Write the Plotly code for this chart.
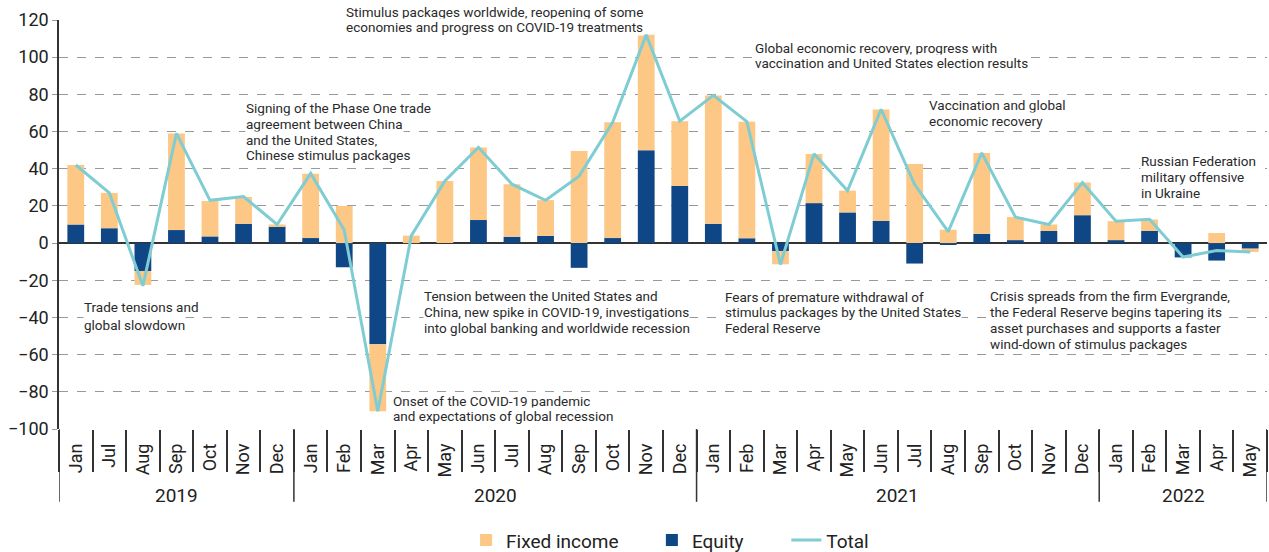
import plotly.graph_objects as go

years = ["2019"] * 7 + ["2020"] * 12 + ["2021"] * 12 + ["2022"] * 5
months = ["Jan", "Jul", "Aug", "Sep", "Oct", "Nov", "Dec",
          "Jan", "Feb", "Mar", "Apr", "May", "Jun", "Jul", "Aug", "Sep", "Oct", "Nov", "Dec",
          "Jan", "Feb", "Mar", "Apr", "May", "Jun", "Jul", "Aug", "Sep", "Oct", "Nov", "Dec",
          "Jan", "Feb", "Mar", "Apr", "May"]

equity = [10, 8, -15, 7, 3.6, 10.4, 9,
          2.7, -13, -54.4, 0, 0, 12.4, 3.4, 3.9, -13.3, 2.7, 50, 30.7,
          10.4, 2.6, -4.3, 21.5, 16.5, 12, -11, -1, 5, 1.6, 6.5, 15,
          1.6, 6.5, -7.7, -9.4, -3]
fixed_income = [32, 19, -7.5, 52, 19, 14.4, 1,
                34.6, 20, -36, 4, 33.4, 39, 28.2, 19.2, 49.5, 62.3, 62, 34.9,
                69, 62.7, -7.1, 26.4, 11.7, 59.9, 42.5, 7.2, 43.4, 12.4, 3.5, 17.6,
                10.2, 6.2, 0, 5.4, -1.8]
total = [42, 27, -23, 59, 23, 25, 10,
         37.5, 7, -90.5, 4, 33.4, 51.5, 31.7, 23, 36, 65, 112, 65.6,
         79.5, 65.3, -11.5, 48, 28.2, 72, 31.5, 6.2, 48.5, 14, 10, 32.6,
         11.8, 12.8, -7.5, -4, -4.8]

y_ticks = list(range(-100, 121, 20))

# annotation lines: (paper x, list of (paper y, text))
notes = [
    (0.2366, [(1.0188, "Stimulus packages worldwide, reopening of some"),
              (0.9821, "economies and progress on COVID-19 treatments")]),
    (0.5757, [(0.9323, "Global economic recovery, progress with"),
              (0.8941, "vaccination and United States election results")]),
    (0.1538, [(0.7856, "Signing of the Phase One trade"),
              (0.7457, "agreement between China"),
              (0.7066, "and the United States,"),
              (0.6692, "Chinese stimulus packages")]),
    (0.7196, [(0.7929, "Vaccination and global"),
              (0.7538, "economic recovery")]),
    (0.8950, [(0.6560, "Russian Federation"),
              (0.6169, "military offensive"),
              (0.5778, "in Ukraine")]),
    (0.0196, [(0.2976, "Trade tensions and"),
              (0.2550, "global slowdown")]),
    (0.3010, [(0.3259, "Tension between the United States and"),
              (0.2868, "China, new spike in COVID-19, investigations"),
              (0.2477, "into global banking and worldwide recession")]),
    (0.2760, [(0.0692, "Onset of the COVID-19 pandemic"),
              (0.0318, "and expectations of global recession")]),
    (0.5509, [(0.3235, "Fears of premature withdrawal of"),
              (0.2853, "stimulus packages by the United States"),
              (0.2462, "Federal Reserve")]),
    (0.7700, [(0.3259, "Crisis spreads from the firm Evergrande,"),
              (0.2868, "the Federal Reserve begins tapering its"),
              (0.2477, "asset purchases and supports a faster"),
              (0.2086, "wind-down of stimulus packages")]),
]

FONT = "Roboto, Arial, sans-serif"
TXT = "#2a2a2a"
NB = "\u00a0"
n = len(months)
xpos = list(range(n))

fig = go.Figure()
fig.add_trace(go.Bar(x=xpos, y=equity, name="Equity" + NB * 8,
                     marker=dict(color="#0E4686", line=dict(width=0)), legendrank=2))
fig.add_trace(go.Bar(x=xpos, y=fixed_income, name="Fixed income" + NB * 6,
                     marker=dict(color="#FDC785", line=dict(width=0)), legendrank=1))
fig.add_trace(go.Scatter(x=xpos, y=total, name="Total", mode="lines",
                         line=dict(color="#7FCDD3", width=3), legendrank=3))

annotations = []
for px, lines in notes:
    for yv, txt in lines:
        annotations.append(dict(
            xref="paper", yref="paper", x=px, y=yv, text=txt, showarrow=False,
            xanchor="left", yanchor="middle", bgcolor="white", borderpad=0,
            font=dict(family=FONT, size=13.5, color=TXT)))

# year group labels and dividers
groups = []
for i, yr in enumerate(years):
    if not groups or groups[-1][0] != yr:
        groups.append([yr, i, i])
    else:
        groups[-1][2] = i

shapes = []
bounds = sorted({g[1] - 0.5 for g in groups} | {groups[-1][2] + 0.5})
for b in bounds:
    shapes.append(dict(type="line", xref="x", yref="paper", x0=b, x1=b, y0=0, y1=-0.178,
                       line=dict(color="#333333", width=1.5)))
for yr, a, b in groups:
    annotations.append(dict(xref="x", yref="paper", x=(a + b) / 2, y=-0.162, text=yr,
                            showarrow=False, xanchor="center", yanchor="middle",
                            font=dict(family=FONT, size=19, color="#222222")))

fig.update_layout(
    width=1269, height=552,
    margin=dict(l=59, r=2, t=20, b=123, autoexpand=False),
    plot_bgcolor="white", paper_bgcolor="white",
    barmode="relative", bargap=0.5,
    font=dict(family=FONT, size=18, color="#222222"),
    showlegend=True,
    legend=dict(orientation="h", x=0.337, xanchor="left", y=-0.272, yanchor="middle",
                font=dict(size=19), traceorder="normal"),
    annotations=annotations,
    shapes=shapes,
)
fig.update_yaxes(range=[-100, 120], tickvals=y_ticks, showgrid=True, gridcolor="#999999",
                 griddash="dash", gridwidth=1, zeroline=True, zerolinecolor="#333333",
                 zerolinewidth=1.5, showline=True, linecolor="#333333", linewidth=1.5,
                 ticks="outside", ticklen=5, tickcolor="#999999",
                 tickfont=dict(size=18), automargin=False)
fig.update_xaxes(range=[-0.5, n - 0.5], tickmode="array", tickvals=xpos, ticktext=months,
                 tickangle=-90, ticks="", showline=False, showgrid=False, zeroline=False,
                 ticklabelstandoff=10, tickfont=dict(size=18), automargin=False,
                 minor=dict(tickmode="array", tickvals=[i - 0.5 for i in range(n + 1)],
                            ticks="outside", ticklen=42, tickcolor="#333333", tickwidth=1.5,
                            showgrid=False))

fig.write_html("out.html", config={"displayModeBar": False},
               post_script="document.body.style.margin='0';document.body.style.overflow='hidden';")
